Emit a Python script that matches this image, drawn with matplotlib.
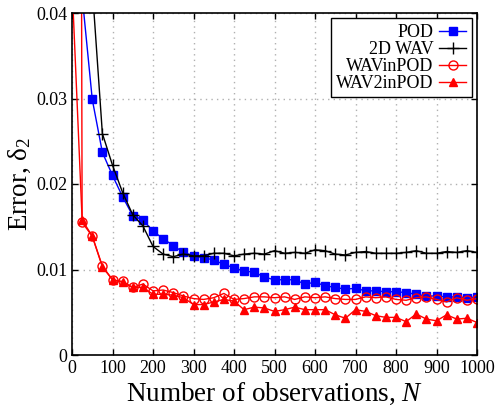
import matplotlib
matplotlib.use("Agg")
import matplotlib.pyplot as plt

plt.rcParams['font.family'] = ['Liberation Serif', 'DejaVu Serif']
plt.rcParams['mathtext.fontset'] = 'custom'
plt.rcParams['mathtext.rm'] = 'Liberation Serif'
plt.rcParams['mathtext.it'] = 'Liberation Serif:italic'

N = list(range(25, 1001, 25))
N_red = [0] + N

pod = [0.042, 0.0299, 0.0237, 0.0210, 0.0185, 0.0163, 0.0158, 0.0145, 0.0136, 0.0128,
       0.0120, 0.0116, 0.0114, 0.0111, 0.0106, 0.0102, 0.0098, 0.0097, 0.0091, 0.0088,
       0.0088, 0.0088, 0.0083, 0.0085, 0.0081, 0.0079, 0.0077, 0.0078, 0.0075, 0.0075,
       0.0074, 0.0074, 0.0073, 0.0071, 0.0069, 0.0069, 0.0068, 0.0068, 0.0067, 0.0068]

wav2d = [0.080, 0.0430, 0.0259, 0.0222, 0.0190, 0.0164, 0.0151, 0.0127, 0.0118, 0.0115,
         0.0118, 0.0116, 0.0116, 0.0119, 0.0119, 0.0116, 0.0118, 0.0119, 0.0118, 0.0122,
         0.0119, 0.0120, 0.0119, 0.0123, 0.0122, 0.0118, 0.0117, 0.0120, 0.0121, 0.0119,
         0.0119, 0.0119, 0.0120, 0.0122, 0.0119, 0.0119, 0.0121, 0.0120, 0.0122, 0.0120]

wavinpod = [0.5, 0.0155, 0.0139, 0.0104, 0.0088, 0.0086, 0.0079, 0.0083, 0.0075, 0.0076, 0.0073,
            0.0069, 0.0066, 0.0065, 0.0067, 0.0072, 0.0065, 0.0066, 0.0068, 0.0068, 0.0067,
            0.0068, 0.0065, 0.0068, 0.0067, 0.0068, 0.0066, 0.0065, 0.0065, 0.0068, 0.0067,
            0.0068, 0.0065, 0.0064, 0.0067, 0.0068, 0.0065, 0.0062, 0.0067, 0.0064, 0.0066]

wav2inpod = [0.0435, 0.0158, 0.0139, 0.0103, 0.0088, 0.0085, 0.0079, 0.0079, 0.0071, 0.0071, 0.0070,
             0.0067, 0.0059, 0.0059, 0.0062, 0.0065, 0.0063, 0.0053, 0.0056, 0.0055, 0.0051,
             0.0053, 0.0056, 0.0053, 0.0053, 0.0053, 0.0047, 0.0043, 0.0053, 0.0051, 0.0046,
             0.0044, 0.0044, 0.0039, 0.0048, 0.0042, 0.0040, 0.0047, 0.0042, 0.0043, 0.0038]

xticks = list(range(0, 1001, 100))
yticks = [0, 0.01, 0.02, 0.03, 0.04]
ytick_labels = ['0', '0.01', '0.02', '0.03', '0.04']

fig = plt.figure(figsize=(4.95, 4.09), dpi=100)
ax = fig.add_axes([72/495, 1 - 355/409, (477-72)/495, (355-13)/409])

ax.plot(N, pod, color='blue', marker='s', markersize=6, lw=1, label='POD')
ax.plot(N, wav2d, color='black', marker='+', markersize=8, mew=1, lw=1, label='2D WAV')
ax.plot(N_red, wavinpod, color='red', marker='o', markersize=6.5, mfc='none', mew=1, lw=1, label='WAVinPOD')
ax.plot(N_red, wav2inpod, color='red', marker='^', markersize=6, lw=1, label='WAV2inPOD')

ax.set_xlim(0, 1000)
ax.set_ylim(0, 0.04)
ax.set_xticks(xticks)
ax.set_yticks(yticks)
ax.set_yticklabels(ytick_labels)
ax.tick_params(direction='in', top=True, right=True, labelsize=13, length=4, width=1)
ax.grid(True, color='#b0b0b0', linestyle=(0, (1, 3)), lw=1)
for s in ax.spines.values():
    s.set_linewidth(1.2)

ax.set_xlabel('Number of observations, $N$', fontsize=19.5, labelpad=3)
ax.set_ylabel('Error, δ$_2$', fontsize=19.5, labelpad=2)

leg = ax.legend(loc='upper right', markerfirst=False, fontsize=13, handlelength=1.5,
                handletextpad=0.3, labelspacing=0.0, borderpad=0.3, borderaxespad=0.3,
                fancybox=False, edgecolor='black', framealpha=1)
leg.get_frame().set_linewidth(1)

fig.savefig('out.png', dpi=100)
